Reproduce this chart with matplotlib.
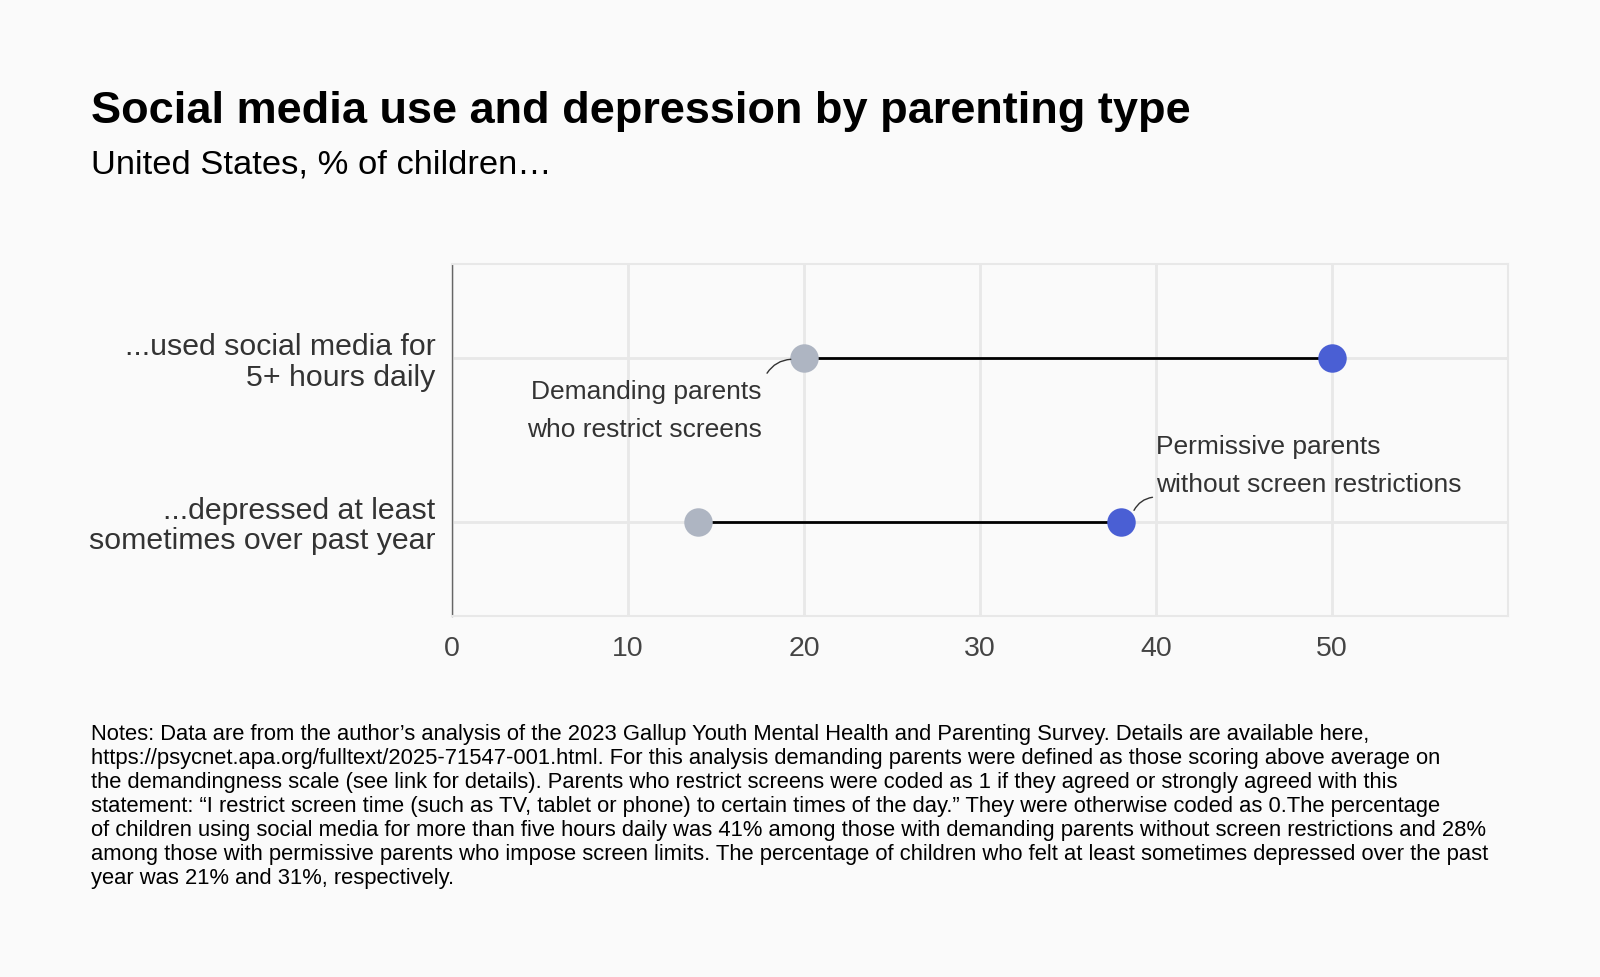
import matplotlib.pyplot as plt
import numpy as np

plt.rcParams['font.family'] = ['Liberation Sans', 'DejaVu Sans']

# data
categories = ['...used social media for\n5+ hours daily',
              '...depressed at least\nsometimes over past year']
demanding = [20, 14]   # demanding parents who restrict screens
permissive = [50, 38]  # permissive parents without screen restrictions
xticks = [0, 10, 20, 30, 40, 50]

notes = ("Notes: Data are from the author\u2019s analysis of the 2023 Gallup Youth Mental Health and Parenting Survey. Details are available here,\n"
         "https://psycnet.apa.org/fulltext/2025-71547-001.html. For this analysis demanding parents were defined as those scoring above average on\n"
         "the demandingness scale (see link for details). Parents who restrict screens were coded as 1 if they agreed or strongly agreed with this\n"
         "statement: \u201cI restrict screen time (such as TV, tablet or phone) to certain times of the day.\u201d They were otherwise coded as 0.The percentage\n"
         "of children using social media for more than five hours daily was 41% among those with demanding parents without screen restrictions and 28%\n"
         "among those with permissive parents who impose screen limits. The percentage of children who felt at least sometimes depressed over the past\n"
         "year was 21% and 31%, respectively.")

bg = '#fafafa'
grey = '#aeb5c2'
blue = '#4a5fd4'

fig = plt.figure(figsize=(16, 9.77), dpi=100, facecolor=bg)
ax = fig.add_axes([0.2825, 0.369, 0.66, 0.361])
ax.set_facecolor(bg)

y = np.arange(len(categories))
for i in range(len(categories)):
    ax.plot([demanding[i], permissive[i]], [y[i], y[i]], color='black', lw=2, zorder=2)
ax.scatter(demanding, y, s=420, color=grey, zorder=3, linewidths=0)
ax.scatter(permissive, y, s=420, color=blue, zorder=3, linewidths=0)

ax.set_xlim(0, 60)
ax.set_ylim(1.58, -0.58)
ax.set_xticks(xticks)
ax.set_xticklabels([str(t) for t in xticks], fontsize=20.5, color='#444444')
ax.set_yticks(y)
ax.set_yticklabels(categories, fontsize=21.8, color='#333333', linespacing=1.1)
ax.tick_params(length=0, pad=14)
ax.tick_params(axis='y', pad=12)
ax.grid(True, color='#e8e8e8', lw=2, zorder=0)
ax.set_axisbelow(True)
for s in ['top', 'right', 'bottom']:
    ax.spines[s].set_color('#e8e8e8')
    ax.spines[s].set_linewidth(1.5)
ax.spines['left'].set_color('#666666')
ax.spines['left'].set_linewidth(1)

# annotations
ax.text(17.6, 0.13, 'Demanding parents\nwho restrict screens', ha='right', va='top',
        fontsize=19, color='#333333', linespacing=1.75)
ax.annotate('', xy=(demanding[0] - 0.75, y[0] + 0.005), xytext=(17.9, 0.09),
            arrowprops=dict(arrowstyle='-', color='#333333', lw=1,
                            connectionstyle='arc3,rad=-0.25', shrinkA=0, shrinkB=0))
ax.text(40.0, 0.47, 'Permissive parents\nwithout screen restrictions', ha='left', va='top',
        fontsize=19, color='#333333', linespacing=1.75)
ax.annotate('', xy=(permissive[1] + 0.75, y[1] - 0.07), xytext=(39.8, y[1] - 0.15),
            arrowprops=dict(arrowstyle='-', color='#333333', lw=1,
                            connectionstyle='arc3,rad=0.25', shrinkA=0, shrinkB=0))

fig.text(0.0568, 0.8746, 'Social media use and depression by parenting type',
         fontsize=32.5, fontweight='bold', va='baseline', color='black')
fig.text(0.0568, 0.8225, 'United States, % of children\u2026',
         fontsize=24.8, va='baseline', color='black')
fig.text(0.0568, 0.259, notes, fontsize=15.8, va='top', ha='left',
         color='black', linespacing=1.19)

fig.savefig('out.png', dpi=100, facecolor=bg)
